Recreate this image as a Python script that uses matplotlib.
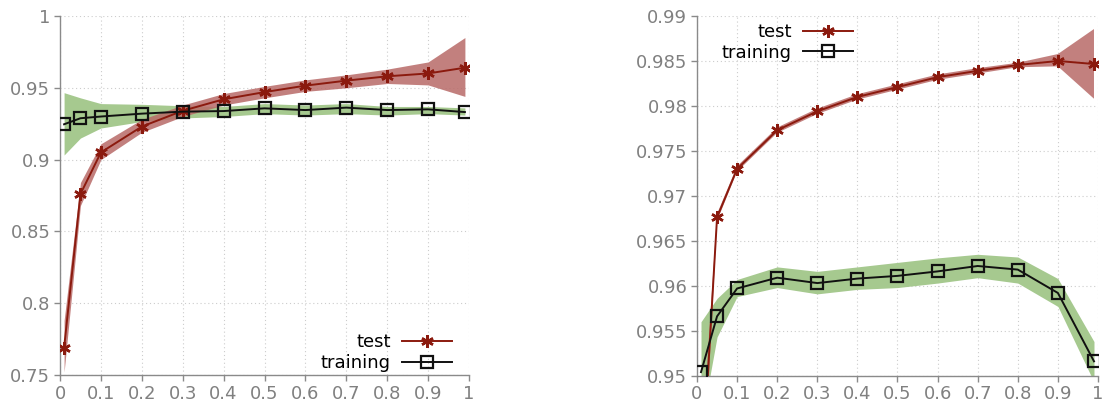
import matplotlib
matplotlib.use("Agg")
import matplotlib.pyplot as plt
from matplotlib.ticker import FixedLocator, FixedFormatter

# Fraction of data used (x axis)
fractions = [0.01, 0.05, 0.1, 0.2, 0.3, 0.4, 0.5, 0.6, 0.7, 0.8, 0.9, 0.99]

# Left panel
left_test_mean = [0.769, 0.876, 0.905, 0.923, 0.934, 0.942, 0.947, 0.9515, 0.955, 0.958, 0.960, 0.964]
left_test_lo = [0.752, 0.868, 0.900, 0.919, 0.930, 0.938, 0.943, 0.9475, 0.950, 0.953, 0.952, 0.944]
left_test_hi = [0.788, 0.884, 0.911, 0.928, 0.938, 0.946, 0.951, 0.9555, 0.959, 0.963, 0.968, 0.985]
left_train_mean = [0.9246, 0.9288, 0.930, 0.932, 0.9334, 0.9338, 0.9357, 0.9345, 0.9362, 0.9345, 0.935, 0.9331]
left_train_lo = [0.9032, 0.915, 0.922, 0.9265, 0.929, 0.930, 0.932, 0.931, 0.932, 0.931, 0.932, 0.931]
left_train_hi = [0.9466, 0.943, 0.939, 0.9385, 0.9375, 0.937, 0.939, 0.938, 0.939, 0.937, 0.937, 0.936]

# Right panel
right_test_mean = [0.937, 0.9676, 0.9730, 0.9773, 0.9794, 0.9810, 0.9821, 0.9832, 0.9839, 0.98455, 0.9850, 0.98466]
right_test_lo = [0.933, 0.9672, 0.9727, 0.9770, 0.9791, 0.9807, 0.9818, 0.9829, 0.9836, 0.9843, 0.9844, 0.9808]
right_test_hi = [0.941, 0.9680, 0.9733, 0.9776, 0.9797, 0.9813, 0.9824, 0.9835, 0.9842, 0.9848, 0.98577, 0.98855]
right_train_mean = [0.9504, 0.9566, 0.9597, 0.9609, 0.9603, 0.9608, 0.9611, 0.9616, 0.9622, 0.9618, 0.9592, 0.9516]
right_train_lo = [0.9445, 0.9543, 0.9588, 0.9598, 0.9591, 0.9596, 0.9598, 0.9603, 0.9609, 0.9603, 0.9577, 0.9493]
right_train_hi = [0.9560, 0.9586, 0.9607, 0.9621, 0.9616, 0.9621, 0.9626, 0.9631, 0.9635, 0.9632, 0.9608, 0.9538]

x_ticks = [0, 0.1, 0.2, 0.3, 0.4, 0.5, 0.6, 0.7, 0.8, 0.9, 1]
x_tick_labels = ["0", "0.1", "0.2", "0.3", "0.4", "0.5", "0.6", "0.7", "0.8", "0.9", "1"]
left_y_ticks = [0.75, 0.8, 0.85, 0.9, 0.95, 1.0]
left_y_labels = ["0.75", "0.8", "0.85", "0.9", "0.95", "1"]
right_y_ticks = [0.95, 0.955, 0.96, 0.965, 0.97, 0.975, 0.98, 0.985, 0.99]
right_y_labels = ["0.95", "0.955", "0.96", "0.965", "0.97", "0.975", "0.98", "0.985", "0.99"]

TEST_COLOR = "#8b1a0e"
TEST_BAND = "#b86a68"
TRAIN_COLOR = "#111111"
TRAIN_BAND = "#a6c98f"
AXIS_GREY = "#8a8a8a"

plt.rcParams["font.family"] = ["DejaVu Sans"]

fig = plt.figure(figsize=(11.08, 4.03), dpi=100)
ax_l = fig.add_axes([60 / 1108, 1 - 375 / 403, 409 / 1108, 359 / 403])
ax_r = fig.add_axes([697 / 1108, 1 - 375.7 / 403, 401 / 1108, 359.7 / 403])


def draw_panel(ax, test_mean, test_lo, test_hi, train_mean, train_lo, train_hi,
               yticks, ylabels, ylim):
    ax.fill_between(fractions, train_lo, train_hi, color=TRAIN_BAND, lw=0, zorder=1)
    ax.fill_between(fractions, test_lo, test_hi, color=TEST_BAND, alpha=0.85, lw=0, zorder=2)
    ax.plot(fractions, test_mean, color=TEST_COLOR, lw=1.4, marker=(6, 2, 0),
            markersize=9, markeredgewidth=1.8, label="test", zorder=3)
    ax.plot(fractions, train_mean, color=TRAIN_COLOR, lw=1.4, marker="s",
            markersize=8, markerfacecolor="none", markeredgewidth=1.6,
            label="training", zorder=4)
    ax.set_xlim(0, 1)
    ax.set_ylim(*ylim)
    ax.xaxis.set_major_locator(FixedLocator(x_ticks))
    ax.xaxis.set_major_formatter(FixedFormatter(x_tick_labels))
    ax.yaxis.set_major_locator(FixedLocator(yticks))
    ax.yaxis.set_major_formatter(FixedFormatter(ylabels))
    ax.grid(True, linestyle=(0, (1, 2.5)), color="#cccccc", lw=0.8)
    ax.set_axisbelow(True)
    for side in ("top", "right"):
        ax.spines[side].set_visible(False)
    for side in ("left", "bottom"):
        ax.spines[side].set_color(AXIS_GREY)
        ax.spines[side].set_linewidth(1.0)
    ax.tick_params(axis="both", direction="out", length=4, width=1.0,
                   color=AXIS_GREY, labelcolor="#808080", labelsize=13, pad=3)


draw_panel(ax_l, left_test_mean, left_test_lo, left_test_hi,
           left_train_mean, left_train_lo, left_train_hi,
           left_y_ticks, left_y_labels, (0.75, 1.0))
draw_panel(ax_r, right_test_mean, right_test_lo, right_test_hi,
           right_train_mean, right_train_lo, right_train_hi,
           right_y_ticks, right_y_labels, (0.95, 0.99))

leg_kw = dict(frameon=False, markerfirst=False, fontsize=13, handlelength=2.8,
              handletextpad=0.6, labelspacing=0.15, borderpad=0.2)
ax_l.legend(loc="lower right", bbox_to_anchor=(0.99, -0.027), **leg_kw)
ax_r.legend(loc="upper left", bbox_to_anchor=(0.03, 1.016), **leg_kw)

fig.savefig("out.png", dpi=100, facecolor="white")
